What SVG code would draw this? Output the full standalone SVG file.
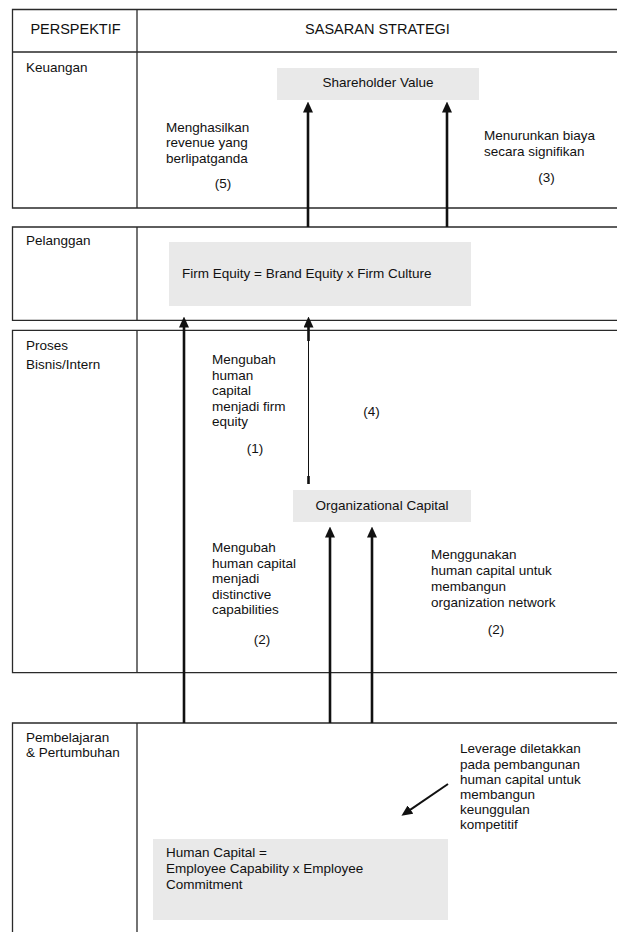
<svg xmlns="http://www.w3.org/2000/svg" width="617" height="932" viewBox="0 0 617 932">
<style>
.grid{fill:none;stroke:#2a2a2a;stroke-width:1.3}
.box{fill:#e9e9e9;stroke:none}
.t{font-family:"Liberation Sans",Arial,sans-serif;font-size:13.5px;fill:#111}
.h{font-family:"Liberation Sans",Arial,sans-serif;font-size:14.5px;fill:#111}
.thick{stroke:#111;stroke-width:2.6;fill:none}
.thin{stroke:#111;stroke-width:1;fill:none}
.diag{stroke:#111;stroke-width:2;fill:none}
</style>
<defs>
<marker id="ah" viewBox="0 0 11 10" refX="0.5" refY="5" markerWidth="11" markerHeight="10" markerUnits="userSpaceOnUse" orient="auto">
<path d="M0,0 L11,5 L0,10 z" fill="#111"/>
</marker>
</defs>
<rect width="617" height="932" fill="#fff"/>

<g id="table">
<path class="grid" d="M630,9.5 H12.5 V208 H630 M12.5,52 H630 M137,9.5 V208"/>
<path class="grid" d="M630,227 H12.5 V320.3 H630 M137,227 V320.3"/>
<path class="grid" d="M630,330.3 H12.5 V672.7 H630 M137,330.3 V672.7"/>
<path class="grid" d="M630,723 H12.5 V940 M137,723 V940"/>
</g>

<g id="header">
<text class="h" x="75.5" y="34" text-anchor="middle">PERSPEKTIF</text>
<text class="h" x="377.5" y="34" text-anchor="middle">SASARAN STRATEGI</text>
</g>

<g id="perspectives">
<text class="t" x="26" y="72">Keuangan</text>
<text class="t" x="26" y="245">Pelanggan</text>
<text class="t" x="26" y="350">Proses</text>
<text class="t" x="26" y="369">Bisnis/Intern</text>
<text class="t" x="26" y="742">Pembelajaran</text>
<text class="t" x="26" y="757">&amp; Pertumbuhan</text>
</g>

<g id="shareholder-value">
<rect class="box" x="277" y="68" width="202" height="32"/>
<text class="t" x="378" y="87" text-anchor="middle">Shareholder Value</text>
</g>

<g id="firm-equity">
<rect class="box" x="169" y="242" width="302" height="64"/>
<text class="t" x="182" y="278">Firm Equity = Brand Equity x Firm Culture</text>
</g>

<g id="organizational-capital">
<rect class="box" x="293" y="490" width="178" height="32"/>
<text class="t" x="382" y="510" text-anchor="middle">Organizational Capital</text>
</g>

<g id="human-capital">
<rect class="box" x="153" y="839" width="295" height="81"/>
<text class="t" x="166" y="857">Human Capital =</text>
<text class="t" x="166" y="873">Employee Capability x Employee</text>
<text class="t" x="166" y="889">Commitment</text>
</g>

<g id="labels">
<text class="t" x="166" y="131.5">Menghasilkan</text>
<text class="t" x="166" y="147">revenue yang</text>
<text class="t" x="166" y="162.5">berlipatganda</text>
<text class="t" x="223" y="188" text-anchor="middle">(5)</text>

<text class="t" x="484" y="140">Menurunkan biaya</text>
<text class="t" x="484" y="155.5">secara signifikan</text>
<text class="t" x="546.5" y="182" text-anchor="middle">(3)</text>

<text class="t" x="212" y="364">Mengubah</text>
<text class="t" x="212" y="379.5">human</text>
<text class="t" x="212" y="395">capital</text>
<text class="t" x="212" y="410.5">menjadi firm</text>
<text class="t" x="212" y="426">equity</text>
<text class="t" x="255" y="453" text-anchor="middle">(1)</text>

<text class="t" x="371.5" y="416" text-anchor="middle">(4)</text>

<text class="t" x="212" y="552">Mengubah</text>
<text class="t" x="212" y="567.5">human capital</text>
<text class="t" x="212" y="583">menjadi</text>
<text class="t" x="212" y="598.5">distinctive</text>
<text class="t" x="212" y="614">capabilities</text>
<text class="t" x="262" y="644" text-anchor="middle">(2)</text>

<text class="t" x="431" y="559">Menggunakan</text>
<text class="t" x="431" y="575">human capital untuk</text>
<text class="t" x="431" y="591">membangun</text>
<text class="t" x="431" y="607">organization network</text>
<text class="t" x="496" y="634" text-anchor="middle">(2)</text>

<text class="t" x="460" y="753">Leverage diletakkan</text>
<text class="t" x="460" y="768.5">pada pembangunan</text>
<text class="t" x="460" y="784">human capital untuk</text>
<text class="t" x="460" y="799">membangun</text>
<text class="t" x="460" y="814">keunggulan</text>
<text class="t" x="460" y="829">kompetitif</text>
</g>

<g id="connectors">
<line class="thick" x1="308" y1="227" x2="308" y2="112" marker-end="url(#ah)"/>
<line class="thick" x1="447" y1="227" x2="447" y2="112" marker-end="url(#ah)"/>
<line class="thick" x1="184" y1="723" x2="184" y2="327" marker-end="url(#ah)"/>
<line class="thin" x1="308.5" y1="480" x2="308.5" y2="335"/>
<line class="thick" x1="308.5" y1="484" x2="308.5" y2="476"/>
<line class="thick" x1="308.5" y1="341" x2="308.5" y2="327" marker-end="url(#ah)"/>
<line class="thick" x1="330" y1="723" x2="330" y2="537" marker-end="url(#ah)"/>
<line class="thick" x1="372" y1="723" x2="372" y2="537" marker-end="url(#ah)"/>
<line class="diag" x1="448" y1="784" x2="410.1" y2="809.8" marker-end="url(#ah)"/>
</g>
</svg>
